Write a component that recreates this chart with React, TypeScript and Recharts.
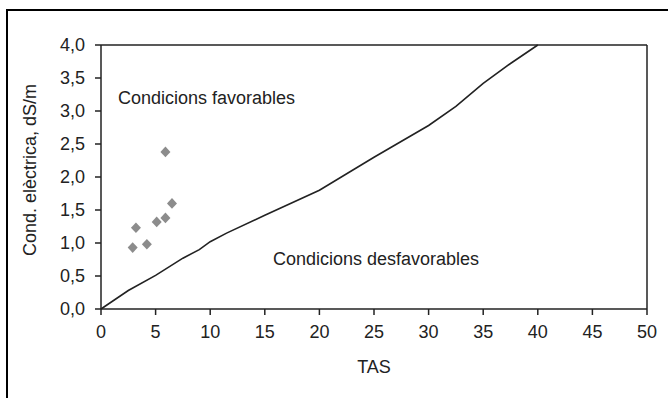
import { ComposedChart, Line, Scatter, XAxis, YAxis, ReferenceLine, ReferenceDot, Label } from 'recharts';

// límit entre condicions favorables / desfavorables
const limitTas = [0, 2.5, 5, 7.5, 9, 10, 11.5, 15, 20, 25, 30, 32.5, 35, 37.5, 40];
const limitCond = [0, 0.28, 0.51, 0.77, 0.9, 1.02, 1.15, 1.42, 1.8, 2.3, 2.78, 3.07, 3.42, 3.72, 4.0];

// mostres
const sampleTas = [2.9, 3.2, 4.2, 5.1, 5.9, 5.9, 6.5];
const sampleCond = [0.93, 1.23, 0.98, 1.32, 1.38, 2.38, 1.6];

const xTicks = [0, 5, 10, 15, 20, 25, 30, 35, 40, 45, 50];
const yTicks = [0, 0.5, 1, 1.5, 2, 2.5, 3, 3.5, 4];

const limitData = limitTas.map((x, i) => ({ x, y: limitCond[i] }));
const sampleData = sampleTas.map((x, i) => ({ x, y: sampleCond[i] }));

const font = '"Liberation Sans", Arial, sans-serif';
const ink = '#222';

const fmt = (v: number) => v.toFixed(1).replace('.', ',');

const Diamond = (props: any) => {
  const { cx, cy } = props;
  return <polygon points={`${cx},${cy - 5.3} ${cx + 5},${cy} ${cx},${cy + 5.3} ${cx - 5},${cy}`} fill="#8c8c8c" />;
};

export default function App() {
  return (
    <div style={{ position: 'absolute', left: 0, top: 0, width: 668, height: 398, overflow: 'hidden', background: '#fff', fontFamily: font }}>
      <div style={{ position: 'absolute', left: 6, top: 9, width: 700, height: 430, border: '2px solid #000' }} />
      <ComposedChart width={668} height={398} margin={{ top: 45, right: 21, left: 8, bottom: 19 }} style={{ position: 'absolute', left: 0, top: 0 }}>
        <XAxis
          type="number"
          dataKey="x"
          domain={[0, 50]}
          ticks={xTicks}
          interval={0}
          height={70}
          tickSize={6}
          tickMargin={10}
          stroke={ink}
          strokeWidth={1.5}
          tick={{ fill: ink, fontSize: 18, fontFamily: font }}
        >
          <Label
            content={({ viewBox }: any) => (
              <text x={viewBox.x + viewBox.width / 2} y={viewBox.y + 58} textAnchor="middle" dominantBaseline="central" fill={ink} fontSize={18} fontFamily={font}>
                TAS
              </text>
            )}
          />
        </XAxis>
        <YAxis
          type="number"
          dataKey="y"
          domain={[0, 4]}
          ticks={yTicks}
          interval={0}
          width={93}
          tickSize={6}
          tickMargin={10}
          stroke={ink}
          strokeWidth={1.5}
          tickFormatter={fmt}
          tick={{ fill: ink, fontSize: 18, fontFamily: font }}
        >
          <Label
            content={({ viewBox }: any) => {
              const x = viewBox.x + 22;
              const y = viewBox.y + viewBox.height / 2 - 7;
              return (
                <text x={x} y={y} transform={`rotate(-90 ${x} ${y})`} textAnchor="middle" dominantBaseline="central" fill={ink} fontSize={18} fontFamily={font}>
                  Cond. elèctrica, dS/m
                </text>
              );
            }}
          />
        </YAxis>
        <ReferenceLine y={4} stroke={ink} strokeWidth={1.5} />
        <ReferenceLine x={50} stroke={ink} strokeWidth={1.5} />
        <Line data={limitData} dataKey="y" type="linear" stroke={ink} strokeWidth={1.6} dot={false} isAnimationActive={false} />
        <Scatter data={sampleData} dataKey="y" shape={Diamond} isAnimationActive={false} />
        <ReferenceDot x={1.55} y={3.2} r={0} fill="none" stroke="none" label={{ value: 'Condicions favorables', position: 'right', offset: 0, fill: ink, fontSize: 18, fontFamily: font }} />
        <ReferenceDot x={15.75} y={0.77} r={0} fill="none" stroke="none" label={{ value: 'Condicions desfavorables', position: 'right', offset: 0, fill: ink, fontSize: 18, fontFamily: font }} />
      </ComposedChart>
    </div>
  );
}
